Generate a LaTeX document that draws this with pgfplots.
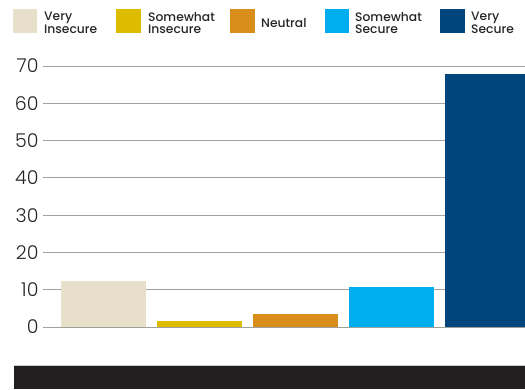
\documentclass[border=0pt]{standalone}
\usepackage{pgfplots}
\pgfplotsset{compat=1.18}
\usepackage{fontspec}
\setmainfont{Poppins}[UprightFont=* Medium]
\newfontfamily\poplight{Poppins}[UprightFont=* Light]
\definecolor{vi}{HTML}{E7DFCA}
\definecolor{si}{HTML}{DDBC00}
\definecolor{ne}{HTML}{D98E1C}
\definecolor{ss}{HTML}{00AEEF}
\definecolor{vs}{HTML}{00457C}
\definecolor{band}{HTML}{231F20}
\definecolor{gridc}{HTML}{A0A09A}
\begin{document}
\begin{tikzpicture}
\useasboundingbox (0pt,0pt) rectangle (525pt,389pt);
\begin{axis}[
  at={(43pt,62pt)}, anchor=south west,
  scale only axis, width=482pt, height=261pt,
  xmin=-0.63, xmax=4.39, ymin=0, ymax=70,
  axis line style={draw=none},
  ytick={0,10,...,70},
  ymajorgrids, major grid style={gridc, line width=0.8pt},
  xtick=\empty,
  yticklabel style={font=\poplight\fontsize{19}{19}\selectfont, text=black!85, xshift=-1pt},
  /pgf/number format/assume math mode=true,
  ybar, bar width=85pt, bar shift=0pt,
  tick style={draw=none},
  clip=true,
]
\addplot[fill=vi, draw=none] coordinates {(0,12.3)};
\addplot[fill=si, draw=none] coordinates {(1,1.6)};
\addplot[fill=ne, draw=none] coordinates {(2,3.5)};
\addplot[fill=ss, draw=none] coordinates {(3,10.7)};
\addplot[fill=vs, draw=none] coordinates {(4,67.8)};
\end{axis}
\fill[band] (14pt,0pt) rectangle (525pt,23pt);
\draw[black!20, line width=0.6pt] (14pt,23.3pt) -- (525pt,23.3pt);
\begin{scope}[every node/.style={anchor=west, font=\fontsize{12.3}{11.6}\selectfont, text=black!85, align=left, inner sep=0pt}]
\fill[vi] (13pt,356pt) rectangle (37pt,380pt);
\node at (44pt,366pt) {Very\\Insecure};
\fill[si] (116pt,356pt) rectangle (141pt,380pt);
\node at (148pt,366pt) {Somewhat\\Insecure};
\fill[ne] (230pt,356pt) rectangle (255pt,380pt);
\node at (261pt,366pt) {Neutral};
\fill[ss] (325pt,356pt) rectangle (349pt,380pt);
\node at (355pt,366pt) {Somewhat\\Secure};
\fill[vs] (440pt,356pt) rectangle (465pt,380pt);
\node at (471pt,366pt) {Very\\Secure};
\end{scope}
\end{tikzpicture}
\end{document}
